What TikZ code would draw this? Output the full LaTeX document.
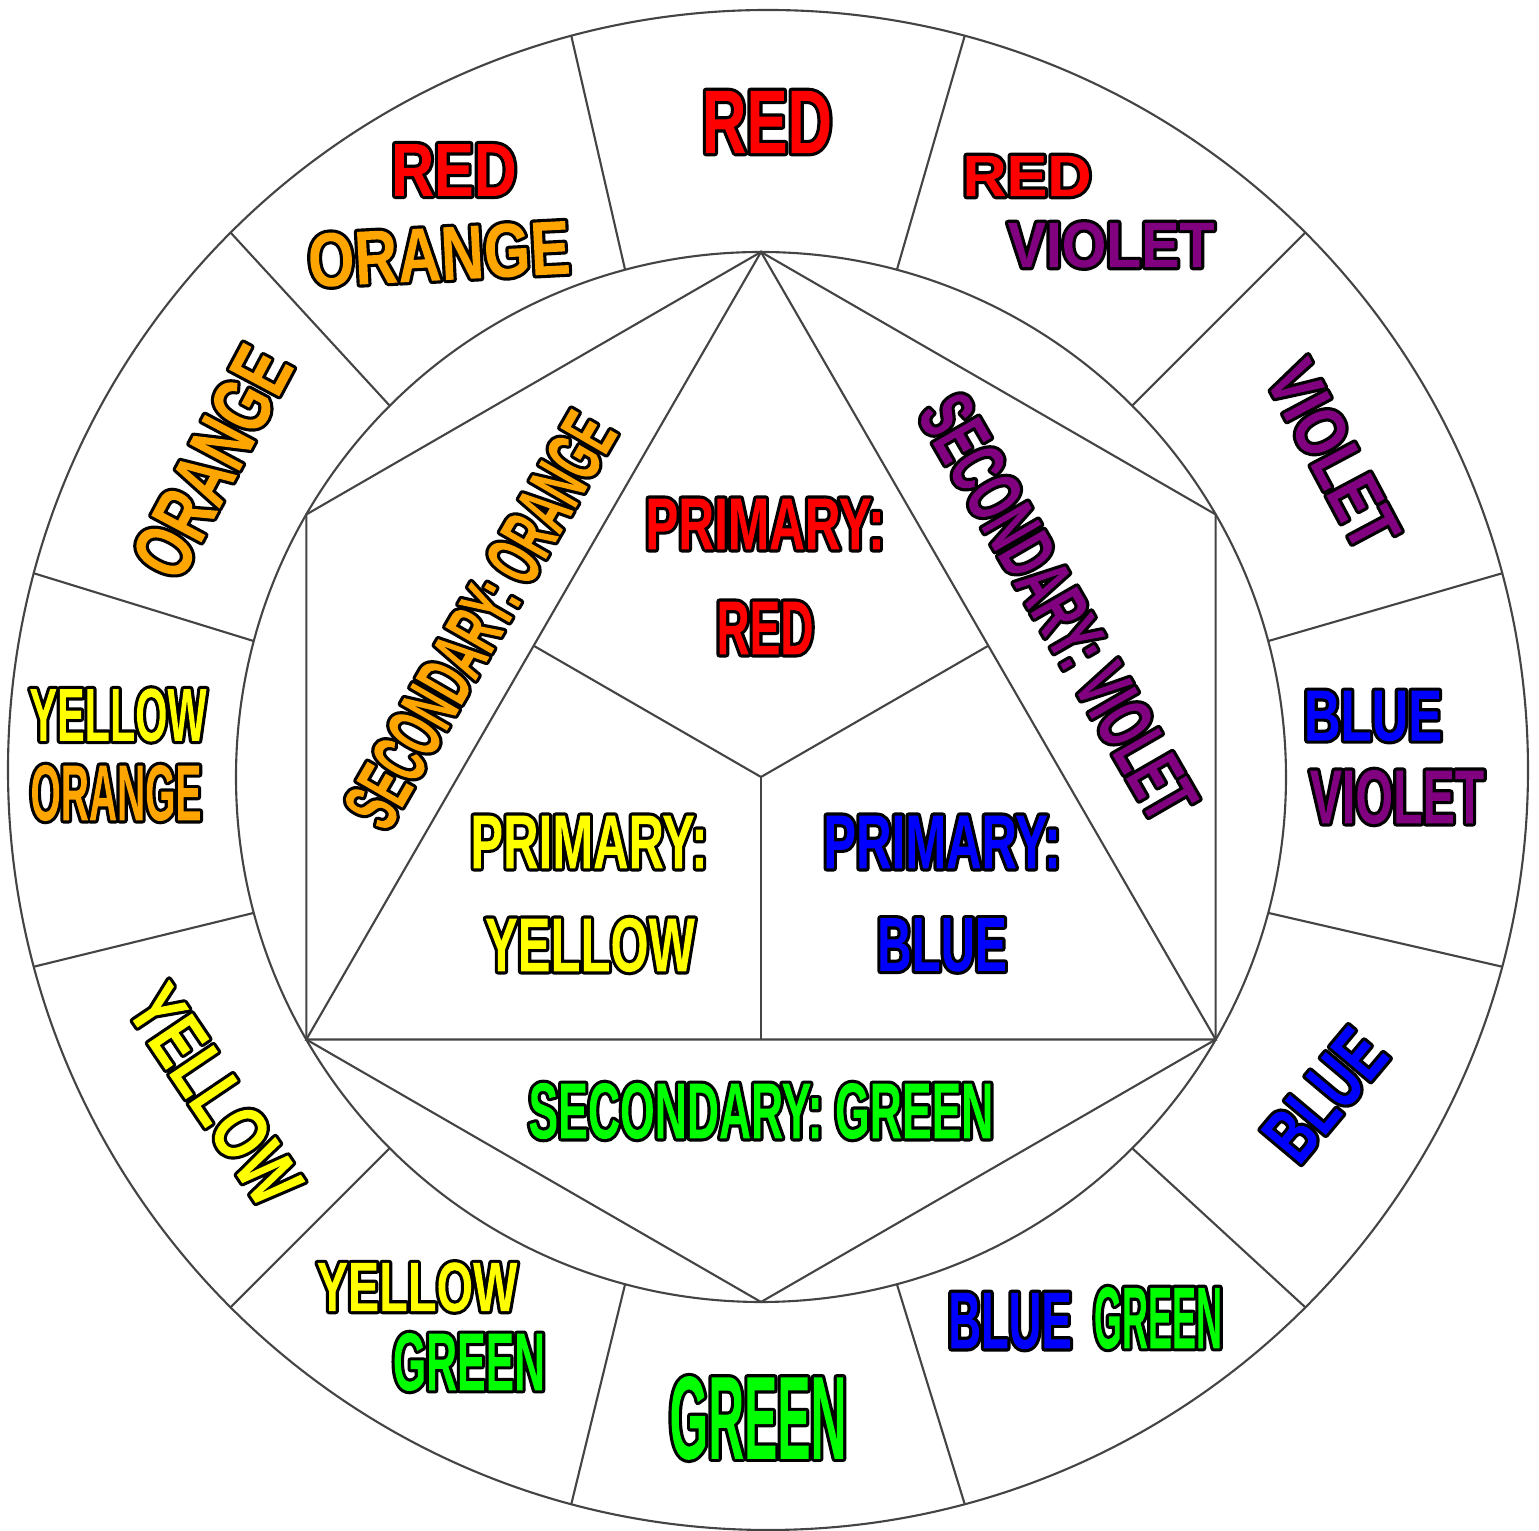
\documentclass[tikz,border=0pt]{standalone}
\usepackage{fontspec}
\setmainfont{Liberation Sans}
\usetikzlibrary{calc}

\definecolor{wheelgray}{HTML}{444444}
% face colours as rgb triples for the pdf code below
\newcommand{\hred}{1 0 0}
\newcommand{\horange}{1 0.647 0}
\newcommand{\hyellow}{1 1 0}
\newcommand{\hgreen}{0 1 0}
\newcommand{\hblue}{0 0 1}
\newcommand{\hviolet}{0.502 0 0.502}

% black rim outside the glyphs: fill+stroke+clip, then refill the face
\newcommand{\rimon}[1]{\special{pdf:literal direct q #1 rg 0 0 0 RG 1.8 w 1 j 6 Tr}}
\newcommand{\rimoff}[1]{\special{pdf:literal direct #1 rg -100000 -100000 200000 200000 re f Q}}
% size, horizontal squeeze, colour, text
\newcommand{\hue}[4]{\fontsize{#1}{#1}\bfseries\addfontfeatures{FakeStretch=#2}%
  \rimon{#3}#4\rimoff{#3}}

\tikzset{
  wheel/.style={draw=wheelgray, line width=0.6pt},
  huetext/.style={inner sep=0pt}
}

\begin{document}
\begin{tikzpicture}[x=0.01cm, y=0.01cm]
  \useasboundingbox (-768,-761) rectangle (771,770);
  \coordinate (oc) at (0,0);
  \coordinate (ic) at (-7,-7);

  % rings and spokes
  \draw[wheel] (oc) circle[radius=760];
  \draw[wheel] (ic) circle[radius=525];
  \foreach \a in {15,45,...,345}
    \draw[wheel] ($(ic)+(\a:525)$) -- ($(oc)+(\a:760)$);

  % hexagon, triangle and its three parts
  \foreach \a [count=\i] in {90,150,210,270,330,30}
    \coordinate (h\i) at ($(ic)+(\a:525)$);
  \draw[wheel] (h1) -- (h2) -- (h3) -- (h4) -- (h5) -- (h6) -- cycle;
  \draw[wheel] (h1) -- (h3) -- (h5) -- cycle;
  \draw[wheel] (ic) -- ($(h1)!0.5!(h3)$);
  \draw[wheel] (ic) -- ($(h1)!0.5!(h5)$);
  \draw[wheel] (ic) -- ($(h3)!0.5!(h5)$);

  % outer ring
  \node[huetext] (red) at (-1,648) {\hue{25.8pt}{0.68}{\hred}{RED}};
  \node[huetext] (redor1) at (-314,600) {\hue{21.4pt}{0.79}{\hred}{RED}};
  \node[huetext, rotate=3] (redor2) at (-329,516) {\hue{21.8pt}{0.78}{\horange}{ORANGE}};
  \node[huetext] (redvi1) at (259,594) {\hue{16.7pt}{1.04}{\hred}{RED}};
  \node[huetext] (redvi2) at (343,525) {\hue{18.3pt}{0.89}{\hviolet}{VIOLET}};
  \node[huetext, rotate=62] (orange) at (-556,308) {\hue{23.5pt}{0.68}{\horange}{ORANGE}};
  \node[huetext, rotate=-62] (violet) at (565,315) {\hue{20.5pt}{0.77}{\hviolet}{VIOLET}};
  \node[huetext] (yelor1) at (-650,55) {\hue{21.4pt}{0.55}{\hyellow}{YELLOW}};
  \node[huetext] (yelor2) at (-652,-23) {\hue{22.6pt}{0.49}{\horange}{ORANGE}};
  \node[huetext] (bluvi1) at (605,54) {\hue{20.6pt}{0.70}{\hblue}{BLUE}};
  \node[huetext] (bluvi2) at (629,-27) {\hue{21.8pt}{0.63}{\hviolet}{VIOLET}};
  \node[huetext, rotate=-56] (yellow) at (-553,-325) {\hue{22pt}{0.74}{\hyellow}{YELLOW}};
  \node[huetext, rotate=50] (blue) at (557,-325) {\hue{22pt}{0.68}{\hblue}{BLUE}};
  \node[huetext] (yelgr1) at (-351,-517) {\hue{19.9pt}{0.67}{\hyellow}{YELLOW}};
  \node[huetext] (yelgr2) at (-299,-592) {\hue{23.4pt}{0.52}{\hgreen}{GREEN}};
  \node[huetext] (green) at (-10,-648) {\hue{33.7pt}{0.42}{\hgreen}{GREEN}};
  \node[huetext] (blugr1) at (242,-551) {\hue{23pt}{0.56}{\hblue}{BLUE}};
  \node[huetext] (blugr2) at (390,-548) {\hue{25pt}{0.41}{\hgreen}{GREEN}};

  % inside
  \node[huetext] (prired1) at (-3,246) {\hue{21pt}{0.67}{\hred}{PRIMARY:}};
  \node[huetext] (prired2) at (-3,142) {\hue{21.8pt}{0.60}{\hred}{RED}};
  \node[huetext] (priyel1) at (-179,-72) {\hue{21.8pt}{0.64}{\hyellow}{PRIMARY:}};
  \node[huetext] (priyel2) at (-178,-175) {\hue{21.8pt}{0.64}{\hyellow}{YELLOW}};
  \node[huetext] (priblu1) at (174,-72) {\hue{21.8pt}{0.64}{\hblue}{PRIMARY:}};
  \node[huetext] (priblu2) at (174,-175) {\hue{21.8pt}{0.62}{\hblue}{BLUE}};
  \node[huetext] (secgr) at (-7,-341) {\hue{22.6pt}{0.56}{\hgreen}{SECONDARY: GREEN}};
  \node[huetext, rotate=60] (secor) at (-288,150) {\hue{22pt}{0.53}{\horange}{SECONDARY: ORANGE}};
  \node[huetext, rotate=-60] (secvi) at (290,163) {\hue{22pt}{0.585}{\hviolet}{SECONDARY: VIOLET}};
\end{tikzpicture}
\end{document}
